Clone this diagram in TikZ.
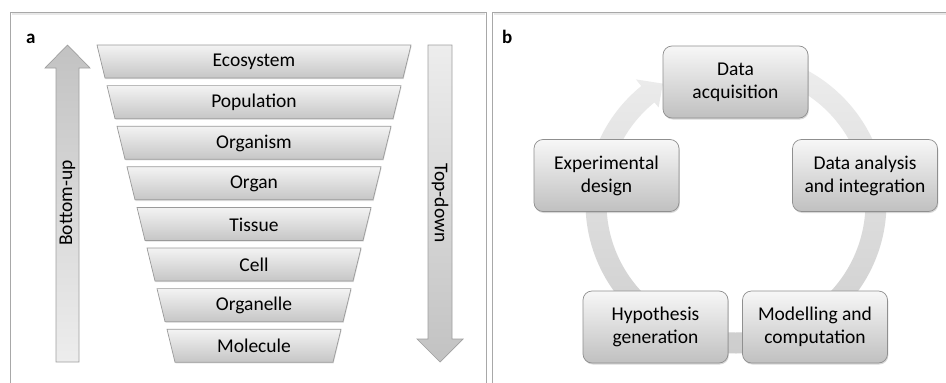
\documentclass[tikz,border=0pt]{standalone}
\usepackage{fontspec}
\setmainfont{Carlito}
\usetikzlibrary{shadows}
\definecolor{framec}{HTML}{A8A8A8}
\definecolor{tzline}{HTML}{9A9A9A}
\definecolor{tztop}{HTML}{F3F3F3}
\definecolor{tzbot}{HTML}{C6C6C6}
\definecolor{arline}{HTML}{A0A0A0}
\definecolor{ardark}{HTML}{C2C2C2}
\definecolor{arlight}{HTML}{EDEDED}
\definecolor{ringtop}{HTML}{EEEEEE}
\definecolor{ringbot}{HTML}{CDCDCD}
\definecolor{boxline}{HTML}{8F8F8F}
\definecolor{boxtop}{HTML}{F7F7F7}
\definecolor{boxbot}{HTML}{C0C0C0}
\tikzset{
  panelframe/.style={draw=framec, line width=0.9pt},
  tz/.style={draw=tzline, line width=0.7pt, top color=tztop, bottom color=tzbot,
     drop shadow={opacity=0.25, shadow xshift=0.6pt, shadow yshift=-1.2pt}},
  lvl/.style={font=\fontsize{19.5}{23}\selectfont, text=black, inner sep=0pt},
  upar/.style={draw=arline, line width=0.7pt, top color=ardark, bottom color=arlight},
  dnar/.style={draw=arline, line width=0.7pt, top color=arlight, bottom color=ardark},
  ringsty/.style={top color=ringtop, bottom color=ringbot, draw=none},
  cyclebox/.style={draw=boxline, line width=0.7pt, rounded corners=9pt,
     minimum width=145pt, minimum height=72pt, align=center,
     top color=boxtop, bottom color=boxbot,
     font=\fontsize{19.5}{23}\selectfont, inner sep=0pt,
     drop shadow={opacity=0.3, shadow xshift=0.8pt, shadow yshift=-1.5pt}},
  panellabel/.style={font=\fontsize{19}{22}\selectfont\bfseries, inner sep=0pt, anchor=base west}
}
\begin{document}
\begin{tikzpicture}[x=1pt,y=-1pt]
\useasboundingbox (0,0) rectangle (946,383);
\fill[white] (0,0) rectangle (946,383);
% panel frames
\draw[gray!18, line width=1.5pt] (11.5,14.2) -- (484.5,14.2);
\draw[gray!18, line width=1.5pt] (493.5,14.2) -- (946,14.2);
\draw[panelframe] (10,383) -- (10,12) -- (486,12) -- (486,383);
\draw[panelframe] (492,383) -- (492,12) -- (946,12);
% labels
\node[panellabel] (la) at (26,43) {a};
\node[panellabel] (lb) at (502,43) {b};
% panel a arrows
\path[upar] (56,362) -- (56,68) -- (45,68) -- (67.5,45) -- (90,68) -- (79,68) -- (79,362) -- cycle;
\node[lvl, rotate=90] (bu) at (67.5,203) {Bottom-up};
\path[dnar] (428,45) -- (452,45) -- (452,339) -- (463,339) -- (440,362) -- (417,339) -- (428,339) -- cycle;
\node[lvl, rotate=-90] (td) at (440,203) {Top-down};
% levels
\foreach \t [count=\i from 0] in {Ecosystem,Population,Organism,Organ,Tissue,Cell,Organelle,Molecule}{
  \pgfmathsetmacro\yt{45+40.6*\i}
  \pgfmathsetmacro\yb{\yt+33}
  \pgfmathsetmacro\xl{97+10*\i}
  \pgfmathsetmacro\xr{411-10*\i}
  \path[tz] (\xl,\yt) -- (\xr,\yt) -- (\xr-8,\yb) -- (\xl+8,\yb) -- cycle;
  \node[lvl] (lv\i) at ({(\xl+\xr)/2},\yt+17) {\t};
}
% panel b ring
\path[ringsty] ([shift={(736,203)}]-90:150.5) arc[start angle=-90, end angle=231, radius=150.5]
  -- ([shift={(736,203)}]231:159) -- ([shift={(736,203)}]238.5:140)
  -- ([shift={(736,203)}]231:123) -- ([shift={(736,203)}]231:129.5)
  arc[start angle=231, end angle=-90, radius=129.5] -- cycle;
% boxes
\node[cyclebox] (da)  at (735.5,82)  {Data\\acquisition};
\node[cyclebox] (dai) at (865,175.5) {Data analysis\\and integration};
\node[cyclebox] (mc)  at (815,327)   {Modelling and\\computation};
\node[cyclebox] (hg)  at (655.5,327) {Hypothesis\\generation};
\node[cyclebox] (ed)  at (606.5,175.5) {Experimental\\design};
\end{tikzpicture}
\end{document}
